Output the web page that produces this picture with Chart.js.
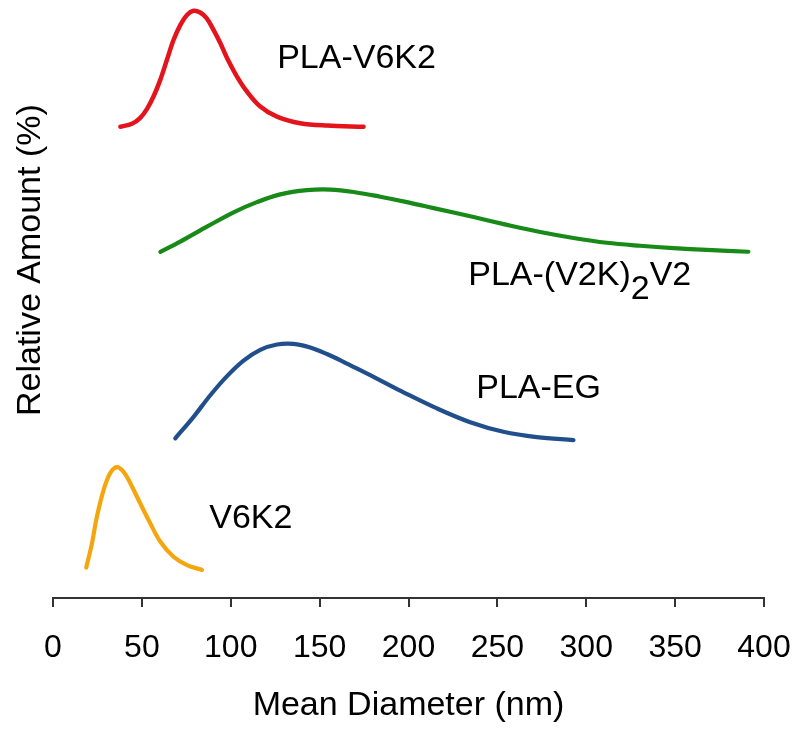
<!DOCTYPE html>
<html>
<head>
<meta charset="utf-8">
<script src="https://cdn.jsdelivr.net/npm/chart.js@4"></script>
<style>
  html, body { margin: 0; padding: 0; background: #fff; }
  #wrap { width: 800px; height: 730px; position: relative; }
</style>
</head>
<body>
<div id="wrap"><canvas id="chart"></canvas></div>
<script>
"use strict";

// x ticks (nm)
const xTicks = [0, 50, 100, 150, 200, 250, 300, 350, 400];

// curves: x in nm, y in offset relative-amount units (0-100)
const pvX = [37.9, 44.4, 49.1, 52.9, 56.6, 60.3, 64.1, 67.8, 71.6, 75.4, 79.1, 82.8, 86.6, 90.3, 94.1, 97.9, 103.5, 109.1, 116.6, 126.0, 139.1, 154.1, 174.7];
const pvY = [78.8, 79.3, 80.3, 81.8, 83.9, 86.6, 90.0, 93.3, 95.8, 97.5, 98.2, 97.9, 96.9, 95.0, 92.8, 90.3, 87.2, 84.7, 82.2, 80.5, 79.4, 79.0, 78.8];

const pkX = [60.4, 71.6, 86.6, 101.6, 114.7, 127.8, 142.9, 155.9, 169.1, 184.1, 199.1, 214.1, 236.6, 255.4, 274.1, 292.8, 311.6, 330.3, 349.1, 367.8, 391.2];
const pkY = [57.9, 59.6, 62.1, 64.5, 66.2, 67.5, 68.2, 68.3, 67.9, 67.1, 66.2, 65.2, 63.7, 62.4, 61.2, 60.2, 59.4, 58.9, 58.5, 58.2, 57.9];

const egX = [68.8, 79.1, 88.5, 97.9, 107.2, 116.6, 126.0, 135.3, 144.7, 154.1, 163.4, 172.8, 184.1, 197.2, 216.0, 234.7, 253.4, 272.2, 292.8];
const egY = [26.7, 30.3, 33.9, 37.1, 39.7, 41.5, 42.4, 42.5, 41.9, 40.8, 39.5, 38.1, 36.4, 34.4, 31.7, 29.4, 27.8, 26.9, 26.4];

const vkX = [18.7, 21.9, 24.7, 28.5, 32.2, 36.0, 39.7, 43.5, 49.1, 54.7, 60.4, 67.8, 75.4, 83.8];
const vkY = [5.1, 9.1, 13.6, 18.1, 20.9, 21.9, 21.1, 19.2, 15.8, 12.5, 9.4, 6.9, 5.5, 4.7];

const FONT = "'Liberation Sans', Arial, sans-serif";

const pts = (xs, ys) => xs.map((x, i) => ({ x, y: ys[i] }));

// series labels, anchored in data units (left edge, baseline)
const seriesLabels = [
  { parts: [["PLA-V6K2", 0]], x: 126.1, y: 88.6 },
  { parts: [["PLA-(V2K)", 0], ["2", 14], ["V2", 0]], x: 233.6, y: 52.3 },
  { parts: [["PLA-EG", 0]], x: 238.1, y: 33.4 },
  { parts: [["V6K2", 0]], x: 87.9, y: 11.7 },
];

const labelPlugin = {
  id: "seriesLabels",
  afterDatasetsDraw(chart) {
    const { ctx, scales: { x, y }, chartArea } = chart;
    ctx.save();
    ctx.fillStyle = "#000";
    ctx.font = "34px " + FONT;
    ctx.textBaseline = "alphabetic";
    ctx.textAlign = "left";
    seriesLabels.forEach(l => {
      let px = x.getPixelForValue(l.x);
      const py = y.getPixelForValue(l.y);
      l.parts.forEach(([t, dy]) => {
        ctx.fillText(t, px, py + dy);
        px += ctx.measureText(t).width;
      });
    });
    // y axis title
    ctx.translate(chartArea.left - 22, y.getPixelForValue(56.5));
    ctx.rotate(-Math.PI / 2);
    ctx.textAlign = "center";
    ctx.textBaseline = "middle";
    ctx.fillText("Relative Amount (%)", 0, 0);
    ctx.restore();
  },
};

const line = (data, color, w) => ({
  data, borderColor: color, borderWidth: w, pointRadius: 0,
  tension: 0.35, fill: false,
  borderCapStyle: "round", borderJoinStyle: "round",
});

new Chart(document.getElementById("chart"), {
  type: "line",
  data: {
    datasets: [
      line(pts(pvX, pvY), "#e3141b", 4.5),
      line(pts(pkX, pkY), "#178a17", 4.2),
      line(pts(egX, egY), "#214f8c", 4.2),
      line(pts(vkX, vkY), "#f5a60f", 4.2),
    ],
  },
  options: {
    responsive: true,
    maintainAspectRatio: false,
    animation: false,
    layout: { padding: { left: 53, right: 36, top: 0, bottom: 0 } },
    plugins: { legend: { display: false }, tooltip: { enabled: false } },
    elements: { line: { clip: false } },
    scales: {
      x: {
        type: "linear", min: 0, max: 400,
        afterBuildTicks: s => { s.ticks = xTicks.map(v => ({ value: v })); },
        afterFit: s => { s.height = 132; s.paddingLeft = 0; s.paddingRight = 0; },
        border: { display: true, color: "#333", width: 2 },
        grid: { display: true, drawOnChartArea: false, drawTicks: true, tickLength: 9, color: "#333", lineWidth: 2 },
        ticks: { color: "#000", font: { family: FONT, size: 32 }, padding: 22, maxRotation: 0 },
        title: { display: true, text: "Mean Diameter (nm)", color: "#000", font: { family: FONT, size: 34 }, padding: { top: 0, bottom: 4 } },
      },
      y: { display: false, min: 0, max: 100 },
    },
  },
  plugins: [labelPlugin],
});
</script>
</body>
</html>
